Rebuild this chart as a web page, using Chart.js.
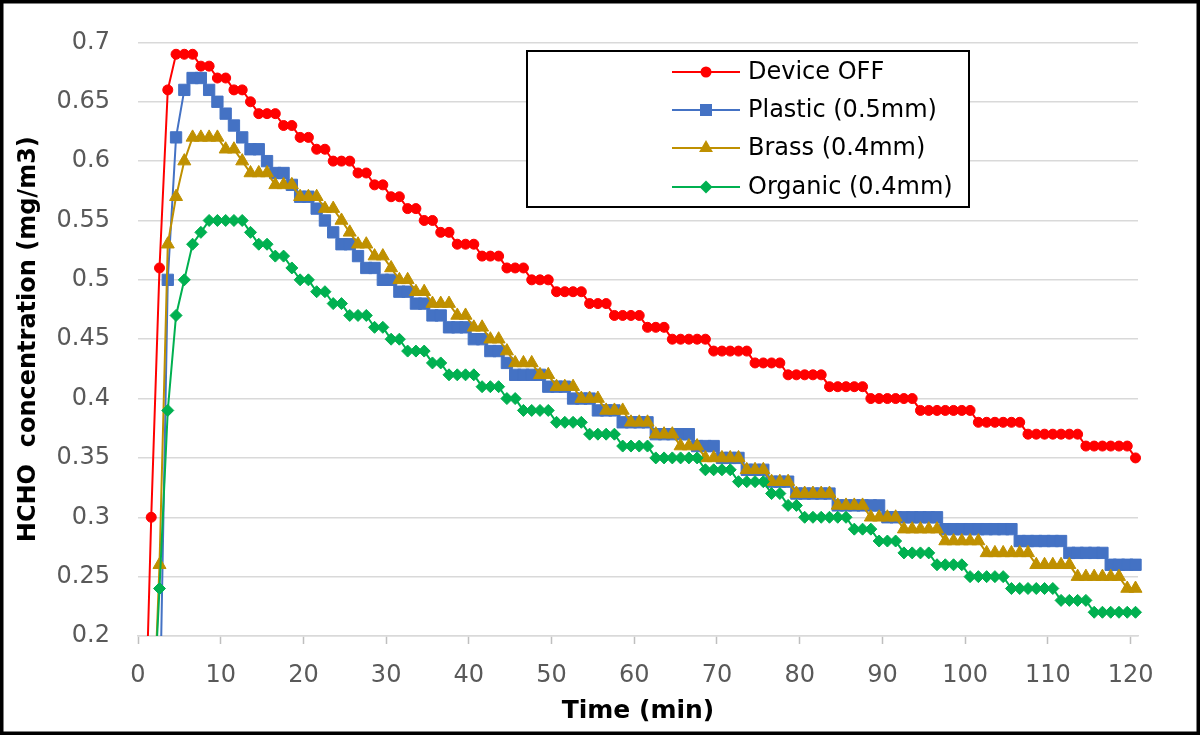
<!DOCTYPE html>
<html>
<head>
<meta charset="utf-8">
<script src="https://cdn.jsdelivr.net/npm/chart.js@4"></script>
<style>
  html, body { margin: 0; padding: 0; background: #fff; }
  canvas { display: block; }
</style>
</head>
<body>
<canvas id="hchoChart" width="1200" height="735"></canvas>
<script>
// sampling times (min)
const minutes = [
  0.6, 1.6, 2.6, 3.6, 4.6, 5.6, 6.6, 7.6, 8.6, 9.6,
  10.6, 11.6, 12.6, 13.6, 14.6, 15.6, 16.6, 17.6, 18.6, 19.6,
  20.6, 21.6, 22.6, 23.6, 24.6, 25.6, 26.6, 27.6, 28.6, 29.6,
  30.6, 31.6, 32.6, 33.6, 34.6, 35.6, 36.6, 37.6, 38.6, 39.6,
  40.6, 41.6, 42.6, 43.6, 44.6, 45.6, 46.6, 47.6, 48.6, 49.6,
  50.6, 51.6, 52.6, 53.6, 54.6, 55.6, 56.6, 57.6, 58.6, 59.6,
  60.6, 61.6, 62.6, 63.6, 64.6, 65.6, 66.6, 67.6, 68.6, 69.6,
  70.6, 71.6, 72.6, 73.6, 74.6, 75.6, 76.6, 77.6, 78.6, 79.6,
  80.6, 81.6, 82.6, 83.6, 84.6, 85.6, 86.6, 87.6, 88.6, 89.6,
  90.6, 91.6, 92.6, 93.6, 94.6, 95.6, 96.6, 97.6, 98.6, 99.6,
  100.6, 101.6, 102.6, 103.6, 104.6, 105.6, 106.6, 107.6, 108.6, 109.6,
  110.6, 111.6, 112.6, 113.6, 114.6, 115.6, 116.6, 117.6, 118.6, 119.6,
  120.6
];

const deviceOff = [
  0.05, 0.30, 0.51, 0.66, 0.69, 0.69, 0.69, 0.68, 0.68, 0.67,
  0.67, 0.66, 0.66, 0.65, 0.64, 0.64, 0.64, 0.63, 0.63, 0.62,
  0.62, 0.61, 0.61, 0.60, 0.60, 0.60, 0.59, 0.59, 0.58, 0.58,
  0.57, 0.57, 0.56, 0.56, 0.55, 0.55, 0.54, 0.54, 0.53, 0.53,
  0.53, 0.52, 0.52, 0.52, 0.51, 0.51, 0.51, 0.50, 0.50, 0.50,
  0.49, 0.49, 0.49, 0.49, 0.48, 0.48, 0.48, 0.47, 0.47, 0.47,
  0.47, 0.46, 0.46, 0.46, 0.45, 0.45, 0.45, 0.45, 0.45, 0.44,
  0.44, 0.44, 0.44, 0.44, 0.43, 0.43, 0.43, 0.43, 0.42, 0.42,
  0.42, 0.42, 0.42, 0.41, 0.41, 0.41, 0.41, 0.41, 0.40, 0.40,
  0.40, 0.40, 0.40, 0.40, 0.39, 0.39, 0.39, 0.39, 0.39, 0.39,
  0.39, 0.38, 0.38, 0.38, 0.38, 0.38, 0.38, 0.37, 0.37, 0.37,
  0.37, 0.37, 0.37, 0.37, 0.36, 0.36, 0.36, 0.36, 0.36, 0.36,
  0.35
];

const plastic = [
  0.00, 0.00, 0.12, 0.50, 0.62, 0.66, 0.67, 0.67, 0.66, 0.65,
  0.64, 0.63, 0.62, 0.61, 0.61, 0.60, 0.59, 0.59, 0.58, 0.57,
  0.57, 0.56, 0.55, 0.54, 0.53, 0.53, 0.52, 0.51, 0.51, 0.50,
  0.50, 0.49, 0.49, 0.48, 0.48, 0.47, 0.47, 0.46, 0.46, 0.46,
  0.45, 0.45, 0.44, 0.44, 0.43, 0.42, 0.42, 0.42, 0.42, 0.41,
  0.41, 0.41, 0.40, 0.40, 0.40, 0.39, 0.39, 0.39, 0.38, 0.38,
  0.38, 0.38, 0.37, 0.37, 0.37, 0.37, 0.37, 0.36, 0.36, 0.36,
  0.35, 0.35, 0.35, 0.34, 0.34, 0.34, 0.33, 0.33, 0.33, 0.32,
  0.32, 0.32, 0.32, 0.32, 0.31, 0.31, 0.31, 0.31, 0.31, 0.31,
  0.30, 0.30, 0.30, 0.30, 0.30, 0.30, 0.30, 0.29, 0.29, 0.29,
  0.29, 0.29, 0.29, 0.29, 0.29, 0.29, 0.28, 0.28, 0.28, 0.28,
  0.28, 0.28, 0.27, 0.27, 0.27, 0.27, 0.27, 0.26, 0.26, 0.26,
  0.26
];

const brass = [
  0.00, 0.08, 0.26, 0.53, 0.57, 0.60, 0.62, 0.62, 0.62, 0.62,
  0.61, 0.61, 0.60, 0.59, 0.59, 0.59, 0.58, 0.58, 0.58, 0.57,
  0.57, 0.57, 0.56, 0.56, 0.55, 0.54, 0.53, 0.53, 0.52, 0.52,
  0.51, 0.50, 0.50, 0.49, 0.49, 0.48, 0.48, 0.48, 0.47, 0.47,
  0.46, 0.46, 0.45, 0.45, 0.44, 0.43, 0.43, 0.43, 0.42, 0.42,
  0.41, 0.41, 0.41, 0.40, 0.40, 0.40, 0.39, 0.39, 0.39, 0.38,
  0.38, 0.38, 0.37, 0.37, 0.37, 0.36, 0.36, 0.36, 0.35, 0.35,
  0.35, 0.35, 0.35, 0.34, 0.34, 0.34, 0.33, 0.33, 0.33, 0.32,
  0.32, 0.32, 0.32, 0.32, 0.31, 0.31, 0.31, 0.31, 0.30, 0.30,
  0.30, 0.30, 0.29, 0.29, 0.29, 0.29, 0.29, 0.28, 0.28, 0.28,
  0.28, 0.28, 0.27, 0.27, 0.27, 0.27, 0.27, 0.27, 0.26, 0.26,
  0.26, 0.26, 0.26, 0.25, 0.25, 0.25, 0.25, 0.25, 0.25, 0.24,
  0.24
];

const organic = [
  0.00, 0.10, 0.24, 0.39, 0.47, 0.50, 0.53, 0.54, 0.55, 0.55,
  0.55, 0.55, 0.55, 0.54, 0.53, 0.53, 0.52, 0.52, 0.51, 0.50,
  0.50, 0.49, 0.49, 0.48, 0.48, 0.47, 0.47, 0.47, 0.46, 0.46,
  0.45, 0.45, 0.44, 0.44, 0.44, 0.43, 0.43, 0.42, 0.42, 0.42,
  0.42, 0.41, 0.41, 0.41, 0.40, 0.40, 0.39, 0.39, 0.39, 0.39,
  0.38, 0.38, 0.38, 0.38, 0.37, 0.37, 0.37, 0.37, 0.36, 0.36,
  0.36, 0.36, 0.35, 0.35, 0.35, 0.35, 0.35, 0.35, 0.34, 0.34,
  0.34, 0.34, 0.33, 0.33, 0.33, 0.33, 0.32, 0.32, 0.31, 0.31,
  0.30, 0.30, 0.30, 0.30, 0.30, 0.30, 0.29, 0.29, 0.29, 0.28,
  0.28, 0.28, 0.27, 0.27, 0.27, 0.27, 0.26, 0.26, 0.26, 0.26,
  0.25, 0.25, 0.25, 0.25, 0.25, 0.24, 0.24, 0.24, 0.24, 0.24,
  0.24, 0.23, 0.23, 0.23, 0.23, 0.22, 0.22, 0.22, 0.22, 0.22,
  0.22
];

const seriesNames = ['Device OFF', 'Plastic (0.5mm)', 'Brass (0.4mm)', 'Organic (0.4mm)'];
const seriesColors = ['#FF0000', '#4472C4', '#BF9000', '#00B050'];
const seriesMarkers = ['circle', 'rect', 'triangle', 'rectRot'];
const markerSizes = [5, 8, 7.5, 6];

const yTicks = [0.2, 0.25, 0.3, 0.35, 0.4, 0.45, 0.5, 0.55, 0.6, 0.65, 0.7];
const xTicks = [0, 10, 20, 30, 40, 50, 60, 70, 80, 90, 100, 110, 120];

const FONT = "'DejaVu Sans', sans-serif";

function toPoints(values) {
  return values.map((v, i) => ({ x: minutes[i], y: v }));
}

const allSeries = [deviceOff, plastic, brass, organic];

const datasets = allSeries.map((vals, i) => ({
  label: seriesNames[i],
  data: toPoints(vals),
  borderColor: seriesColors[i],
  backgroundColor: seriesColors[i],
  borderWidth: 2,
  pointStyle: seriesMarkers[i],
  pointRadius: markerSizes[i],
  pointBorderWidth: 1,
  pointBackgroundColor: seriesColors[i],
  pointBorderColor: seriesColors[i],
  tension: 0,
  order: 3 - i, // last series sits on top, like the original
  clip: { left: 0, top: 8, right: 10, bottom: 0 }
}));

// white background + black frame
const framePlugin = {
  id: 'frame',
  beforeDraw(chart) {
    const ctx = chart.ctx;
    ctx.save();
    ctx.fillStyle = '#fff';
    ctx.fillRect(0, 0, chart.width, chart.height);
    ctx.restore();
  },
  afterDraw(chart) {
    const ctx = chart.ctx;
    ctx.save();
    ctx.strokeStyle = '#000';
    ctx.lineWidth = 7;
    ctx.strokeRect(0, 0, chart.width, chart.height);
    ctx.restore();
  }
};

function drawMarker(ctx, style, x, y, r, color) {
  ctx.fillStyle = color;
  ctx.beginPath();
  if (style === 'circle') {
    ctx.arc(x, y, r, 0, Math.PI * 2);
  } else if (style === 'rect') {
    const s = r * Math.SQRT1_2;
    ctx.rect(x - s, y - s, 2 * s, 2 * s);
  } else if (style === 'triangle') {
    ctx.moveTo(x, y - r);
    ctx.lineTo(x + r * 0.866, y + r * 0.5);
    ctx.lineTo(x - r * 0.866, y + r * 0.5);
    ctx.closePath();
  } else {
    ctx.moveTo(x, y - r);
    ctx.lineTo(x + r, y);
    ctx.lineTo(x, y + r);
    ctx.lineTo(x - r, y);
    ctx.closePath();
  }
  ctx.fill();
}

// legend box inside the plot, top right
const boxLegend = {
  id: 'boxLegend',
  afterDatasetsDraw(chart) {
    const ctx = chart.ctx;
    ctx.save();
    ctx.fillStyle = '#fff';
    ctx.fillRect(527, 51, 442, 156);
    ctx.strokeStyle = '#000';
    ctx.lineWidth = 2;
    ctx.strokeRect(527, 51, 442, 156);
    const rows = [72, 110, 148, 187];
    ctx.font = '24px ' + FONT;
    ctx.textBaseline = 'middle';
    ctx.textAlign = 'left';
    seriesNames.forEach((name, i) => {
      const y = rows[i];
      ctx.strokeStyle = seriesColors[i];
      ctx.lineWidth = 2;
      ctx.beginPath();
      ctx.moveTo(672, y);
      ctx.lineTo(740, y);
      ctx.stroke();
      drawMarker(ctx, seriesMarkers[i], 706, y, markerSizes[i] + 0.5, seriesColors[i]);
      ctx.fillStyle = '#000';
      ctx.fillText(name, 748, y + 1);
    });
    ctx.restore();
  }
};

const ctx = document.getElementById('hchoChart').getContext('2d');

new Chart(ctx, {
  type: 'line',
  data: { datasets },
  options: {
    responsive: false,
    animation: false,
    events: [],
    layout: { padding: { top: 38, right: 62, bottom: 0, left: 0 } },
    plugins: {
      legend: { display: false },
      tooltip: { enabled: false }
    },
    scales: {
      x: {
        type: 'linear',
        min: 0,
        max: 120.9,
        afterBuildTicks: scale => { scale.ticks = xTicks.map(v => ({ value: v })); },
        afterFit: scale => { scale.height = 99; },
        ticks: {
          color: '#595959',
          font: { family: FONT, size: 24 },
          padding: 17,
          maxRotation: 0,
          autoSkip: false
        },
        grid: {
          drawOnChartArea: false,
          drawTicks: true,
          tickLength: 8,
          tickColor: '#BFBFBF',
          tickWidth: 1.5
        },
        border: { display: true, color: '#D9D9D9', width: 1.5 },
        title: {
          display: true,
          text: 'Time (min)',
          color: '#000',
          font: { family: FONT, size: 25, weight: 'bold' },
          padding: { top: 0, bottom: 9 }
        }
      },
      y: {
        min: 0.2,
        max: 0.7,
        afterBuildTicks: scale => { scale.ticks = yTicks.map(v => ({ value: v })); },
        afterFit: scale => { scale.width = 138; },
        ticks: {
          color: '#595959',
          font: { family: FONT, size: 24 },
          padding: 28,
          callback: v => String(+v.toFixed(2))
        },
        grid: { color: '#D9D9D9', lineWidth: 1.5, drawTicks: false },
        border: { display: false },
        title: {
          display: true,
          text: 'HCHO  concentration (mg/m3)',
          color: '#000',
          font: { family: FONT, size: 24, weight: 'bold' },
          padding: { top: 14, bottom: 0 }
        }
      }
    }
  },
  plugins: [framePlugin, boxLegend]
});
</script>
</body>
</html>
